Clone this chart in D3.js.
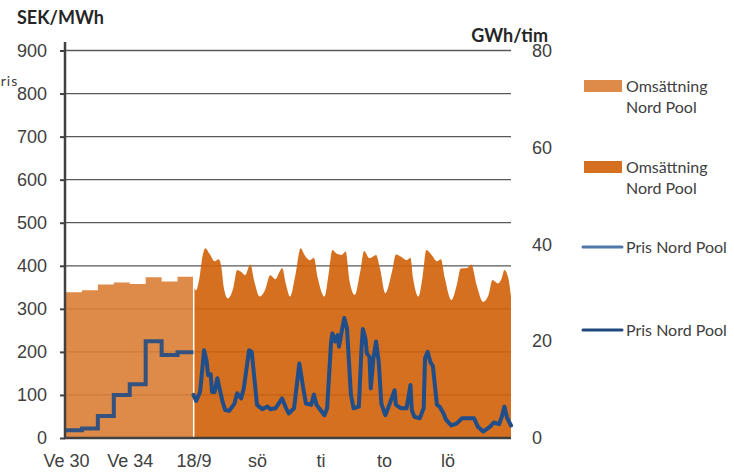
<!DOCTYPE html>
<html>
<head>
<meta charset="utf-8">
<script src="https://cdn.jsdelivr.net/npm/d3@7"></script>
<style>
  body { margin: 0; background: #fff; }
  svg { display: block; font-family: Lato, "Open Sans", sans-serif; }
  .tick text { fill: #404040; font-size: 18px; }
  .legend text { fill: #404040; font-size: 16px; }
  .unit { fill: #262626; font-size: 18px; font-weight: bold; }
</style>
</head>
<body>
<div id="chart"></div>
<script>
// Veckodata (Ve 30 - Ve 37)
const weeks = ["Ve 30", "Ve 31", "Ve 32", "Ve 33", "Ve 34", "Ve 35", "Ve 36", "Ve 37"];
const weekVolume = [30.1, 30.5, 31.7, 32.1, 31.8, 33.2, 32.3, 33.3]; // GWh/tim
const weekPrice = [18, 22, 51, 100, 125, 225, 193, 199]; // SEK/MWh

// Timdata 18/9 - 27/9, [timme, värde]
const hourlyVolume = [
  [0, 31.2], [2, 30.5], [4, 32.3], [7, 37.8], [9, 39.2], [12, 38.1], [16, 36.5], [19, 36.9],
  [21, 35.4], [23, 30.9], [26, 28.8], [30, 30.9], [33, 34.7], [36, 34.3], [39, 33.6], [43, 35.8],
  [46, 32.3], [50, 29.2], [54, 30.5], [58, 33.6], [62, 32.8], [65, 34.3], [67, 35.1], [70, 31.6],
  [73, 29.2], [77, 33.6], [81, 39.2], [84, 37.8], [88, 36.7], [91, 37.2], [94, 33.0], [99, 29.2],
  [102, 33.6], [105, 38.8], [108, 38.1], [112, 37.8], [115, 38.5], [118, 32.3], [122, 29.5],
  [126, 34.3], [129, 38.6], [133, 37.1], [138, 37.8], [141, 35.0], [145, 29.9], [150, 34.3],
  [153, 37.9], [157, 37.4], [161, 36.7], [164, 37.2], [166, 33.0], [170, 29.2], [173, 33.0],
  [176, 38.8], [180, 37.8], [184, 36.5], [187, 36.9], [190, 33.0], [195, 28.5], [199, 31.6],
  [202, 35.0], [207, 35.1], [210, 35.8], [214, 31.6], [219, 28.1], [223, 29.5], [226, 32.6],
  [230, 31.9], [233, 33.0], [235, 34.7], [238, 33.0], [240, 29.2]
];
const hourlyPrice = [
  [0, 100], [2, 86], [5, 107], [8, 204], [10, 177], [11, 146], [13, 148], [14, 107], [16, 107],
  [18, 139], [20, 111], [22, 84], [24, 65], [27, 63], [31, 80], [33, 104], [36, 92], [38, 115],
  [42, 204], [44, 200], [46, 139], [48, 77], [52, 67], [56, 73], [58, 67], [62, 69], [67, 92],
  [70, 69], [72, 57], [76, 69], [80, 173], [83, 115], [85, 80], [89, 77], [91, 101], [93, 77],
  [95, 69], [99, 53], [101, 69], [104, 224], [105, 243], [107, 224], [109, 239], [110, 212],
  [112, 247], [114, 279], [116, 255], [119, 100], [121, 69], [125, 73], [127, 208], [128, 253],
  [130, 231], [131, 197], [133, 189], [134, 115], [136, 185], [138, 224], [140, 177], [142, 80],
  [145, 53], [148, 77], [152, 111], [153, 77], [157, 69], [161, 69], [164, 123], [165, 65],
  [167, 49], [171, 46], [174, 69], [175, 185], [177, 200], [179, 177], [181, 166], [184, 77],
  [186, 73], [189, 57], [191, 42], [195, 29], [199, 34], [203, 46], [212, 46], [215, 26],
  [219, 15], [224, 26], [227, 36], [231, 32], [233, 49], [235, 73], [237, 47], [240, 29]
];

// Axlar
const xTickPos = [0, 4, 8, 10, 12, 14, 16];
const xTickLabels = ["Ve 30", "Ve 34", "18/9", "sö", "ti", "to", "lö"];
const leftTicks = [0, 100, 200, 300, 400, 500, 600, 700, 800, 900];
const rightTicks = [0, 20, 40, 60, 80];

const legendItems = [
  { label: ["Omsättning", "Nord Pool"], type: "rect", color: "#de8a48" },
  { label: ["Omsättning", "Nord Pool"], type: "rect", color: "#d4701f" },
  { label: ["Pris Nord Pool"], type: "line", color: "#4f77a8" },
  { label: ["Pris Nord Pool"], type: "line", color: "#1f497d" },
];

const W = 734, H = 473;
const plotLeft = 65, plotRight = 511, plotTop = 50.5, plotBottom = 438;

const svg = d3.select("#chart").append("svg").attr("width", W).attr("height", H);

// veckor 0..8, sedan 10 dagar (8..18)
const x = d3.scaleLinear().domain([0, 8, 18]).range([66, 193.5, plotRight]);
const hx = (h) => x(8 + h / 24);
const yL = d3.scaleLinear().domain([0, 900]).range([plotBottom, plotTop]);
const yR = d3.scaleLinear().domain([0, 80]).range([plotBottom, plotTop]);

// Rutnät
svg.append("g")
  .selectAll("line")
  .data(leftTicks.filter((d) => d > 0))
  .join("line")
  .attr("x1", plotLeft)
  .attr("x2", plotRight)
  .attr("y1", (d) => yL(d))
  .attr("y2", (d) => yL(d))
  .attr("stroke", "#595959")
  .attr("stroke-width", 1.3);

// Omsättning per vecka
const weekData = weekVolume.map((v, i) => [i, v]).concat([[8, weekVolume[7]]]);
svg.append("path")
  .datum(weekData)
  .attr("fill", "#da7d34")
  .attr("fill-opacity", 0.9)
  .attr("d", d3.area().curve(d3.curveStepAfter).x((d) => x(d[0])).y0(plotBottom).y1((d) => yR(d[1])));

// Omsättning per timme
svg.append("path")
  .datum(hourlyVolume)
  .attr("fill", "#cf6007")
  .attr("fill-opacity", 0.9)
  .attr("d", d3.area().curve(d3.curveMonotoneX).x((d) => hx(d[0])).y0(plotBottom).y1((d) => yR(d[1])));

// vit skiljelinje
svg.append("line")
  .attr("x1", x(8) + 0.2).attr("x2", x(8) + 0.2)
  .attr("y1", yR(weekVolume[7])).attr("y2", plotBottom)
  .attr("stroke", "#fff").attr("stroke-width", 1.5);

// Vänster axel
const leftAxis = svg.append("g")
  .attr("transform", `translate(${plotLeft},0)`)
  .call(d3.axisLeft(yL).tickValues(leftTicks).tickSize(5).tickPadding(13).tickSizeOuter(0));
leftAxis.select(".domain").remove();
leftAxis.selectAll(".tick line").attr("stroke", "#404040").attr("stroke-width", 2);
svg.append("line")
  .attr("x1", plotLeft).attr("x2", plotLeft)
  .attr("y1", 42).attr("y2", plotBottom + 1)
  .attr("stroke", "#404040").attr("stroke-width", 2.5);

// Höger axel
const rightAxis = svg.append("g")
  .attr("transform", `translate(${plotRight},0)`)
  .call(d3.axisRight(yR).tickValues(rightTicks).tickSize(0).tickPadding(21));
rightAxis.select(".domain").remove();

// X-axel
const bottomAxis = svg.append("g")
  .attr("transform", `translate(0,${plotBottom})`)
  .call(d3.axisBottom(x).tickValues(xTickPos).tickSize(0).tickPadding(16)
    .tickFormat((d, i) => xTickLabels[i]));
bottomAxis.select(".domain").remove();
svg.append("line")
  .attr("x1", plotLeft - 1).attr("x2", plotRight)
  .attr("y1", plotBottom).attr("y2", plotBottom)
  .attr("stroke", "#404040").attr("stroke-width", 2.5);

// Pris per vecka
const weekPriceData = weekPrice.map((v, i) => [i, v]).concat([[8, weekPrice[7]]]);
svg.append("path")
  .datum(weekPriceData)
  .attr("fill", "none")
  .attr("stroke", "#34527f")
  .attr("stroke-width", 4)
  .attr("d", d3.line().curve(d3.curveStepAfter).x((d) => x(d[0])).y((d) => yL(d[1])));

// Pris per timme
svg.append("path")
  .datum(hourlyPrice)
  .attr("fill", "none")
  .attr("stroke", "#1f4e8a")
  .attr("stroke-width", 4)
  .attr("stroke-linejoin", "round")
  .attr("stroke-linecap", "round")
  .attr("d", d3.line().x((d) => hx(d[0])).y((d) => yL(d[1])));

// Enheter
svg.append("text").attr("class", "unit").attr("x", 17).attr("y", 24).text("SEK/MWh");
svg.append("text").attr("class", "unit").attr("x", 548).attr("y", 42)
  .attr("text-anchor", "end").text("GWh/tim");
// delvis utanför bilden, som i originalet
svg.append("text").attr("x", -8.5).attr("y", 86)
  .attr("fill", "#404040").attr("font-size", 14).attr("letter-spacing", 1).text("Pris");

// Legend
const legendY = [86, 167, 247, 330];
const legend = svg.append("g").attr("class", "legend");
legendItems.forEach((item, i) => {
  const g = legend.append("g").attr("transform", `translate(584,${legendY[i]})`);
  if (item.type === "rect") {
    g.append("rect").attr("x", 0).attr("y", -6).attr("width", 38).attr("height", 12).attr("fill", item.color);
  } else {
    g.append("line").attr("x1", -1).attr("x2", 38).attr("y1", 0).attr("y2", 0)
      .attr("stroke", item.color).attr("stroke-width", 3).attr("stroke-linecap", "round");
  }
  item.label.forEach((t, j) => {
    g.append("text").attr("x", 42).attr("y", j * 21).attr("dy", "0.35em").text(t);
  });
});
</script>
</body>
</html>
